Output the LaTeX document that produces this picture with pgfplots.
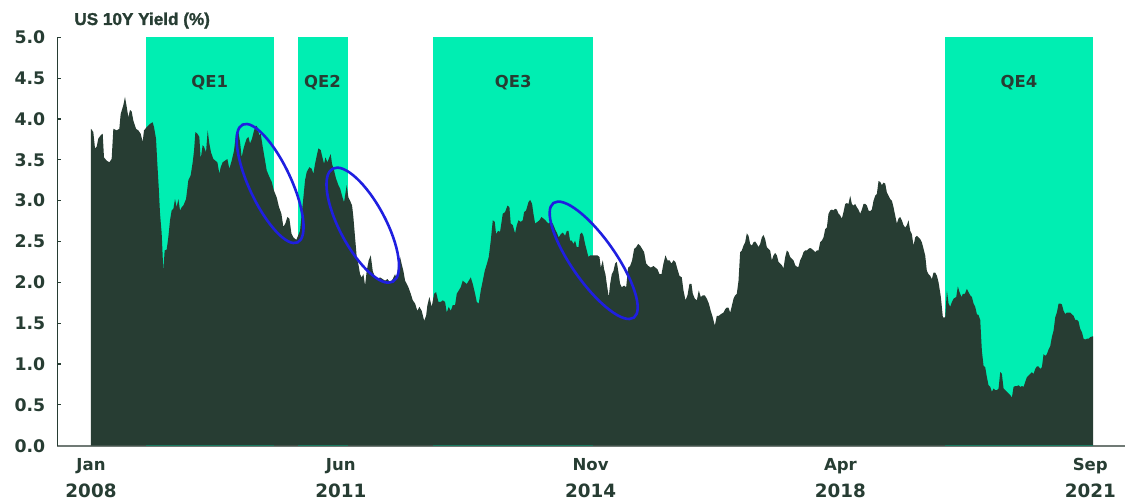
\documentclass[border=0pt]{standalone}
\usepackage{fontspec}
\usepackage{pgfplots}
\pgfplotsset{compat=1.18}
\usetikzlibrary{shapes.geometric}

\newfontfamily\djv{DejaVu Sans}
\newfontfamily\libb{Liberation Sans Bold}[FakeBold=1.3]

\definecolor{ink}{RGB}{39,61,51}
\definecolor{qe}{RGB}{0,238,178}
\definecolor{ring}{RGB}{31,31,224}
\definecolor{xline}{RGB}{112,122,117}

\newcommand{\tickfont}{\djv\bfseries\fontsize{8.7}{10}\selectfont}
\newcommand{\mon}{\djv\bfseries\fontsize{8.3}{13.35}\selectfont}
\newcommand{\yr}{\djv\bfseries\fontsize{9.2}{13.35}\selectfont}

% months since Jan 2008, US 10Y yield (%)
\pgfplotstableread{
m y
0.00 3.88
0.38 3.84
0.66 3.64
0.93 3.66
1.20 3.76
1.59 3.80
1.92 3.82
2.13 3.53
2.57 3.49
3.01 3.47
3.39 3.51
3.67 3.88
4.21 3.86
4.65 3.88
4.87 4.06
5.31 4.17
5.58 4.27
5.86 4.15
6.13 4.02
6.40 4.11
6.68 4.09
6.95 3.98
7.39 3.88
7.77 3.86
8.15 3.82
8.48 3.72
8.70 3.86
9.14 3.90
9.69 3.94
10.12 3.96
10.34 3.90
10.67 3.76
10.89 3.45
11.11 3.17
11.33 2.84
11.60 2.60
11.87 2.14
12.09 2.39
12.42 2.40
12.69 2.55
12.97 2.76
13.24 2.88
13.52 2.90
13.79 3.02
14.06 2.92
14.34 3.02
14.61 2.88
14.88 2.92
15.16 2.94
15.60 3.02
15.98 3.25
16.36 3.31
16.69 3.47
16.91 3.61
17.13 3.84
17.46 3.82
17.78 3.78
18.00 3.51
18.33 3.68
18.55 3.66
18.88 3.59
19.15 3.86
19.42 3.70
19.70 3.59
20.08 3.51
20.41 3.49
20.74 3.47
21.07 3.33
21.29 3.41
21.61 3.47
22.00 3.49
22.38 3.51
22.71 3.39
23.09 3.49
23.47 3.61
23.80 3.82
24.19 3.84
24.46 3.72
24.73 3.53
25.01 3.63
25.28 3.70
25.55 3.76
25.83 3.78
26.10 3.70
26.43 3.76
26.76 3.86
27.09 3.92
27.30 3.90
27.63 3.80
27.85 3.82
28.18 3.66
28.57 3.49
28.84 3.37
29.28 3.29
29.66 3.23
30.04 3.12
30.48 3.04
30.86 2.92
31.25 2.84
31.57 2.68
31.90 2.72
32.23 2.80
32.56 2.78
32.89 2.60
33.21 2.55
33.70 2.52
34.31 2.63
34.58 2.84
34.86 3.04
35.13 3.25
35.40 3.35
35.84 3.41
36.22 3.39
36.50 3.33
36.77 3.45
37.05 3.55
37.32 3.64
37.70 3.62
37.98 3.53
38.25 3.45
38.47 3.53
38.80 3.47
39.12 3.53
39.34 3.57
39.56 3.45
39.89 3.37
40.22 3.27
40.60 3.19
40.88 3.15
41.20 3.06
41.53 2.98
41.97 3.19
42.24 3.04
42.52 3.00
42.85 2.94
43.06 2.80
43.34 2.55
43.61 2.31
43.89 2.22
44.16 2.10
44.43 2.06
44.71 2.10
44.98 1.96
45.25 2.14
45.58 2.27
45.91 2.33
46.24 2.14
46.62 2.06
47.00 2.04
47.44 2.06
47.88 2.04
48.26 2.02
48.65 2.04
49.08 2.00
49.52 2.04
49.90 2.10
50.18 2.04
50.45 2.23
50.73 2.31
51.00 2.22
51.27 2.14
51.55 2.02
51.82 1.98
52.09 1.94
52.48 1.86
52.81 1.78
53.19 1.74
53.57 1.65
53.90 1.70
54.28 1.65
54.67 1.53
55.00 1.59
55.21 1.72
55.54 1.82
55.92 1.70
56.31 1.86
56.64 1.88
57.02 1.76
57.40 1.76
57.73 1.78
58.11 1.76
58.39 1.63
58.71 1.70
59.04 1.65
59.37 1.72
59.75 1.72
60.03 1.86
60.36 1.90
60.68 1.94
61.01 2.02
61.34 2.00
61.67 1.98
62.00 2.02
62.33 2.06
62.66 1.98
63.04 1.86
63.31 1.76
63.64 1.74
63.97 1.90
64.30 2.02
64.62 2.14
64.95 2.22
65.28 2.31
65.61 2.51
65.94 2.76
66.27 2.74
66.48 2.59
66.81 2.63
67.14 2.62
67.58 2.84
67.96 2.86
68.35 2.94
68.67 2.92
68.89 2.72
69.22 2.70
69.60 2.60
69.88 2.70
70.15 2.76
70.53 2.74
70.86 2.76
71.08 2.86
71.41 2.88
71.79 2.98
72.07 3.01
72.39 2.96
72.61 2.84
72.89 2.72
73.27 2.74
73.60 2.76
73.93 2.80
74.26 2.78
74.58 2.76
74.80 2.74
75.08 2.72
75.35 2.74
75.79 2.72
76.17 2.65
76.44 2.61
76.77 2.55
77.10 2.59
77.43 2.61
77.81 2.57
78.09 2.63
78.36 2.63
78.63 2.51
78.91 2.51
79.18 2.47
79.45 2.51
79.73 2.43
80.00 2.43
80.27 2.59
80.55 2.61
80.82 2.57
81.09 2.47
81.37 2.39
81.64 2.31
81.92 2.33
82.35 2.33
82.74 2.33
83.12 2.33
83.45 2.31
83.67 2.18
84.00 2.27
84.21 2.16
84.43 2.10
84.65 1.98
84.98 1.82
85.20 1.98
85.47 2.10
85.75 2.14
86.02 2.23
86.29 2.25
86.57 2.12
86.84 1.98
87.11 1.94
87.50 1.96
87.83 1.94
88.15 2.18
88.48 2.20
88.81 2.27
89.14 2.41
89.47 2.43
89.80 2.47
90.12 2.45
90.45 2.41
90.78 2.37
91.11 2.23
91.49 2.20
91.88 2.18
92.31 2.20
92.64 2.18
92.97 2.16
93.30 2.10
93.63 2.10
93.95 2.23
94.28 2.33
94.61 2.27
94.94 2.27
95.27 2.23
95.60 2.27
95.92 2.25
96.25 2.16
96.58 2.08
96.96 2.06
97.24 1.90
97.57 1.78
97.89 1.84
98.22 1.98
98.55 1.98
98.77 1.86
99.10 1.80
99.43 1.78
99.75 1.90
100.08 1.82
100.41 1.84
100.74 1.84
101.07 1.80
101.40 1.74
101.72 1.65
102.05 1.57
102.38 1.47
102.71 1.59
103.04 1.59
103.37 1.61
103.80 1.63
104.08 1.67
104.35 1.69
104.62 1.69
104.90 1.63
105.17 1.71
105.45 1.80
105.72 1.84
105.99 1.86
106.27 2.02
106.54 2.37
106.81 2.39
107.09 2.45
107.36 2.49
107.63 2.60
107.91 2.57
108.18 2.47
108.46 2.45
108.73 2.49
109.00 2.50
109.28 2.47
109.55 2.43
109.82 2.47
110.10 2.55
110.37 2.58
110.64 2.53
110.92 2.43
111.19 2.41
111.46 2.39
111.74 2.27
112.01 2.33
112.28 2.36
112.56 2.33
112.83 2.25
113.11 2.23
113.38 2.21
113.65 2.17
113.93 2.31
114.20 2.39
114.47 2.37
114.75 2.31
115.02 2.29
115.29 2.27
115.57 2.21
115.84 2.19
116.11 2.19
116.39 2.27
116.66 2.31
116.94 2.37
117.21 2.39
117.48 2.39
117.76 2.41
118.03 2.42
118.30 2.41
118.58 2.39
118.85 2.37
119.12 2.39
119.40 2.39
119.67 2.49
119.94 2.51
120.22 2.55
120.49 2.65
120.77 2.67
121.04 2.84
121.31 2.88
121.59 2.89
121.86 2.88
122.13 2.90
122.41 2.89
122.68 2.84
122.95 2.82
123.23 2.78
123.50 2.86
123.78 2.96
124.05 2.97
124.32 2.96
124.60 3.06
124.87 2.96
125.14 2.94
125.42 2.96
125.69 2.92
125.96 2.89
126.24 2.84
126.51 2.89
126.79 2.96
127.06 2.96
127.33 2.94
127.61 2.88
127.88 2.87
128.15 2.89
128.43 3.00
128.70 3.06
128.97 3.08
129.25 3.24
129.52 3.23
129.80 3.19
130.07 3.22
130.34 3.21
130.62 3.10
130.89 3.06
131.16 3.02
131.44 3.00
131.71 2.92
131.98 2.82
132.26 2.72
132.53 2.78
132.81 2.80
133.08 2.76
133.35 2.70
133.63 2.67
133.90 2.70
134.17 2.76
134.45 2.63
134.72 2.59
134.99 2.45
135.27 2.55
135.54 2.57
135.82 2.55
136.09 2.53
136.36 2.49
136.64 2.41
136.91 2.33
137.18 2.14
137.46 2.10
137.73 2.08
138.00 2.04
138.28 2.12
138.55 2.12
138.83 2.08
139.10 2.00
139.48 1.82
139.81 1.57
140.19 1.57
140.47 1.90
140.74 1.74
141.01 1.70
141.29 1.76
141.56 1.80
142.00 1.82
142.27 1.95
142.54 1.88
142.87 1.82
143.09 1.86
143.42 1.86
143.75 1.92
144.02 1.88
144.30 1.84
144.57 1.82
144.84 1.74
145.12 1.70
145.39 1.61
145.66 1.60
145.94 1.54
146.21 1.16
146.48 0.98
146.76 0.96
147.03 0.84
147.30 0.74
147.58 0.72
147.85 0.66
148.13 0.70
148.40 0.68
148.67 0.68
148.95 0.70
149.22 0.90
149.49 0.88
149.77 0.70
150.04 0.68
150.31 0.66
150.59 0.64
150.86 0.62
151.14 0.59
151.41 0.72
151.68 0.73
151.96 0.73
152.23 0.74
152.50 0.72
152.78 0.73
153.05 0.72
153.32 0.78
153.60 0.84
153.87 0.86
154.15 0.88
154.42 0.90
154.69 0.88
154.97 0.94
155.24 0.97
155.51 0.97
155.79 0.94
156.06 0.96
156.33 1.12
156.61 1.10
156.88 1.12
157.16 1.18
157.43 1.22
157.70 1.33
157.98 1.41
158.25 1.57
158.52 1.63
158.80 1.74
159.07 1.74
159.34 1.73
159.62 1.65
159.89 1.61
160.17 1.63
160.44 1.63
160.71 1.63
160.99 1.61
161.26 1.59
161.53 1.54
161.81 1.54
162.08 1.52
162.35 1.43
162.63 1.39
162.90 1.31
163.18 1.30
163.45 1.31
163.72 1.31
164.00 1.33
164.45 1.34
}\yields

\begin{document}
\begin{tikzpicture}
\useasboundingbox (-28.65bp,-27.65bp) rectangle (538.35bp,222.85bp);
\begin{axis}[
  at={(0,0)}, anchor=south west,
  scale only axis,
  width=533.85bp, height=204.2bp,
  xmin=-5.53, xmax=169.7,
  ymin=0, ymax=5,
  axis x line*=bottom,
  axis y line*=left,
  x axis line style={draw=xline, line width=0.8bp},
  y axis line style={draw=ink, line width=0.6bp},
  xtick={0,41,82,123,164},
  xticklabels={{\mon Jan\\\yr 2008},{\mon Jun\\\yr 2011},{\mon Nov\\\yr 2014},{\mon Apr\\\yr 2018},{\mon Sep\\\yr 2021}},
  xtick style={draw=none},
  xticklabel style={anchor=north, inner sep=0pt, yshift=-6.15bp, align=center, text=ink, font=\mon},
  ytick={0,0.5,...,5},
  yticklabels={0.0,0.5,1.0,1.5,2.0,2.5,3.0,3.5,4.0,4.5,5.0},
  ytick style={draw=ink, line width=0.6bp},
  tick align=inside,
  major tick length=1.7bp,
  yticklabel style={anchor=east, inner sep=0pt, xshift=-5.8bp, text=ink, font=\tickfont},
]
% QE programme windows
\addplot[fill=qe, draw=none] coordinates {(8.98,5) (30.09,5)} \closedcycle;
\addplot[fill=qe, draw=none] coordinates {(33.93,5) (42.14,5)} \closedcycle;
\addplot[fill=qe, draw=none] coordinates {(56.19,5) (82.36,5)} \closedcycle;
\addplot[fill=qe, draw=none] coordinates {(140.1,5) (164.45,5)} \closedcycle;

% yield area
\addplot[fill=ink, draw=none] table[x=m, y=y] {\yields} \closedcycle;

\node[text=ink, font=\djv\bfseries\fontsize{8.25}{10}\selectfont] at (axis cs:19.5,4.45) {QE1};
\node[text=ink, font=\djv\bfseries\fontsize{8.25}{10}\selectfont] at (axis cs:38.0,4.45) {QE2};
\node[text=ink, font=\djv\bfseries\fontsize{8.25}{10}\selectfont] at (axis cs:69.3,4.45) {QE3};
\node[text=ink, font=\djv\bfseries\fontsize{8.25}{10}\selectfont] at (axis cs:152.3,4.45) {QE4};

% highlighted sell-offs
\node[draw=ring, line width=1.3bp, ellipse, inner sep=0pt, minimum width=65bp, minimum height=21bp, rotate=-65] at (axis cs:29.4,3.21) {};
\node[draw=ring, line width=1.3bp, ellipse, inner sep=0pt, minimum width=64bp, minimum height=23bp, rotate=-62] at (axis cs:44.6,2.70) {};
\node[draw=ring, line width=1.3bp, ellipse, inner sep=0pt, minimum width=70bp, minimum height=22bp, rotate=-55] at (axis cs:82.5,2.27) {};
\end{axis}
\node[anchor=base west, inner sep=0pt, text=ink, font=\libb\fontsize{8.6}{10}\selectfont] at (8.35bp,210.35bp) {US 10Y Yield (\%)};
\end{tikzpicture}
\end{document}
